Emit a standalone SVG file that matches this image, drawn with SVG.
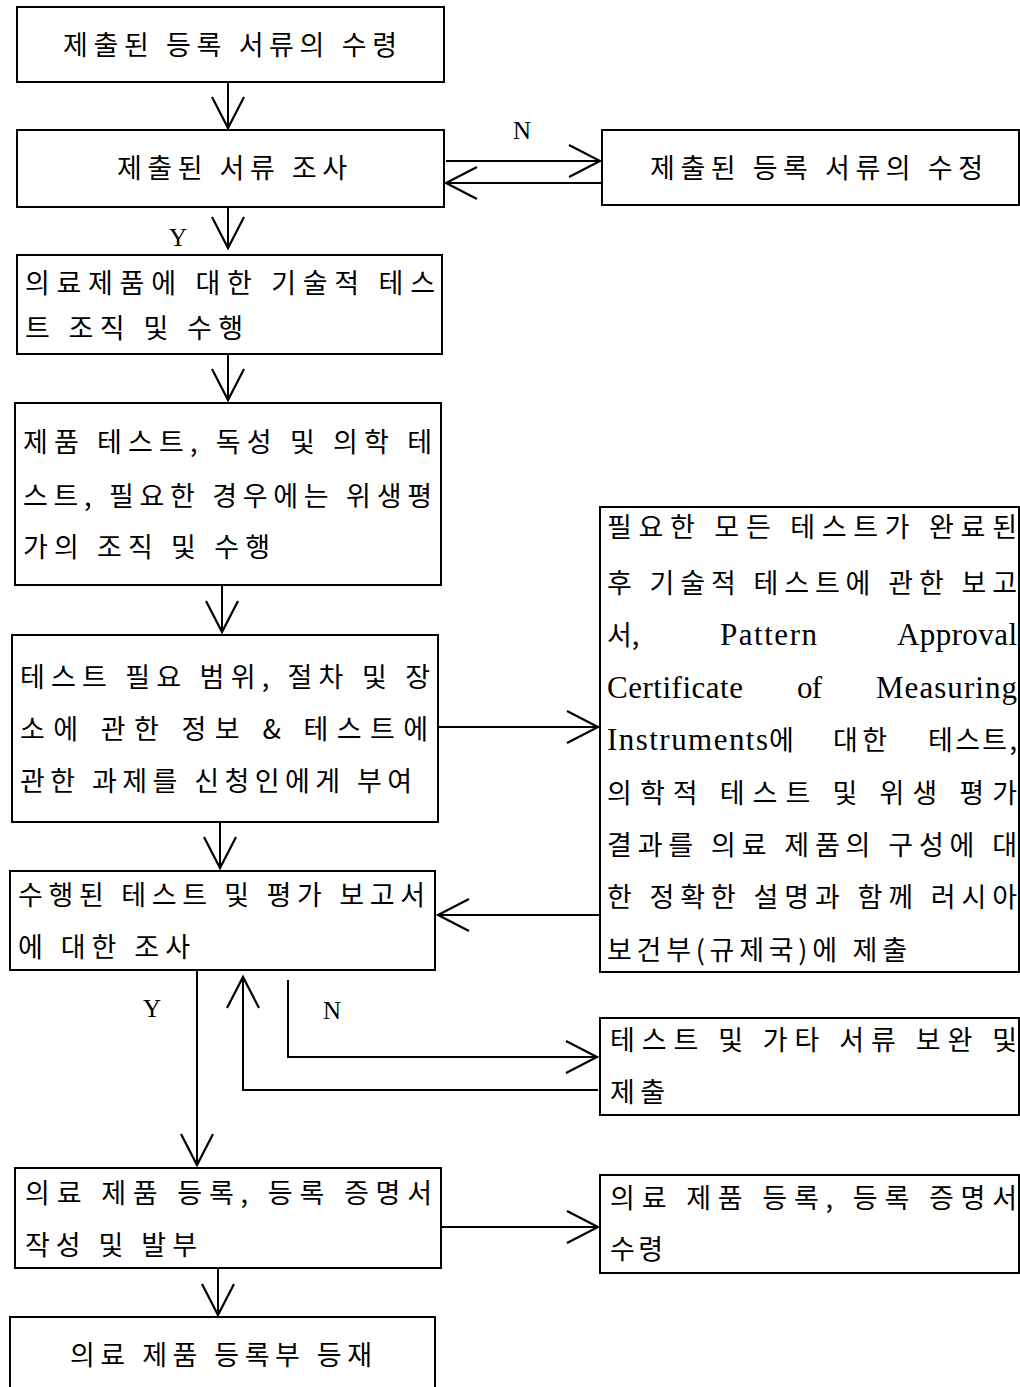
<svg xmlns="http://www.w3.org/2000/svg" width="1020" height="1387" viewBox="0 0 1020 1387">
<style>
.box{fill:#fff;stroke:#000;stroke-width:2}
.t{font-family:"Noto Sans CJK KR","Liberation Serif",serif;font-size:27px;fill:#000}
.l{font-family:"Liberation Serif","Noto Sans CJK KR",serif;font-size:31px;fill:#000}
.lbl{font-family:"Liberation Serif",serif;font-size:25px;fill:#000}
.c{fill:none;stroke:#000;stroke-width:2}
</style>
<defs>
<marker id="ah" markerUnits="userSpaceOnUse" markerWidth="40" markerHeight="40" viewBox="-34 -20 40 40" refX="0" refY="0" orient="auto">
<path d="M-31,-16 L0,0 L-31,16" fill="none" stroke="#000" stroke-width="2.2"/>
</marker>
</defs>
<g id="connectors">
<line class="c" x1="228" y1="82" x2="228" y2="128" marker-end="url(#ah)"/>
<line class="c" x1="446" y1="161" x2="600" y2="161" marker-end="url(#ah)"/>
<line class="c" x1="601" y1="183" x2="446" y2="183" marker-end="url(#ah)"/>
<line class="c" x1="228" y1="207" x2="228" y2="248" marker-end="url(#ah)"/>
<line class="c" x1="228" y1="354" x2="228" y2="400" marker-end="url(#ah)"/>
<line class="c" x1="222" y1="585" x2="222" y2="632" marker-end="url(#ah)"/>
<line class="c" x1="438" y1="727" x2="598" y2="727" marker-end="url(#ah)"/>
<line class="c" x1="600" y1="915" x2="438" y2="915" marker-end="url(#ah)"/>
<line class="c" x1="220" y1="822" x2="220" y2="868" marker-end="url(#ah)"/>
<line class="c" x1="197" y1="970" x2="197" y2="1165" marker-end="url(#ah)"/>
<polyline class="c" points="598,1090 243,1090 243,977" marker-end="url(#ah)"/>
<polyline class="c" points="288,980 288,1057 597,1057" marker-end="url(#ah)"/>
<line class="c" x1="441" y1="1227" x2="598" y2="1227" marker-end="url(#ah)"/>
<line class="c" x1="218" y1="1268" x2="218" y2="1315" marker-end="url(#ah)"/>
<text class="lbl" x="522" y="139" text-anchor="middle">N</text>
<text class="lbl" x="178" y="246" text-anchor="middle">Y</text>
<text class="lbl" x="152" y="1017" text-anchor="middle">Y</text>
<text class="lbl" x="332" y="1019" text-anchor="middle">N</text>
</g>
<g id="n1">
<rect class="box" x="17" y="7" width="427" height="75"/>
<text class="t" x="63" y="55" textLength="334" lengthAdjust="spacing">제출된 등록 서류의 수령</text>
</g>
<g id="n2">
<rect class="box" x="17" y="130" width="427" height="77"/>
<text class="t" x="117" y="178" textLength="230" lengthAdjust="spacing">제출된 서류 조사</text>
</g>
<g id="n2r">
<rect class="box" x="602" y="130" width="417" height="75"/>
<text class="t" x="650" y="178" textLength="333" lengthAdjust="spacing">제출된 등록 서류의 수정</text>
</g>
<g id="n3">
<rect class="box" x="17" y="255" width="425" height="99"/>
<text class="t" x="25" y="293" textLength="410" lengthAdjust="spacing">의료제품에 대한 기술적 테스</text>
<text class="t" x="25" y="338" textLength="218" lengthAdjust="spacing">트 조직 및 수행</text>
</g>
<g id="n4">
<rect class="box" x="15" y="403" width="426" height="182"/>
<text class="t" x="23" y="452" textLength="409" lengthAdjust="spacing">제품 테스트, 독성 및 의학 테</text>
<text class="t" x="23" y="506" textLength="409" lengthAdjust="spacing">스트, 필요한 경우에는 위생평</text>
<text class="t" x="23" y="557" textLength="247" lengthAdjust="spacing">가의 조직 및 수행</text>
</g>
<g id="n5">
<rect class="box" x="12" y="635" width="426" height="187"/>
<text class="t" x="20" y="687" textLength="410" lengthAdjust="spacing">테스트 필요 범위, 절차 및 장</text>
<text class="t" x="20" y="739" textLength="408" lengthAdjust="spacing">소에 관한 정보 &amp; 테스트에</text>
<text class="t" x="20" y="791" textLength="392" lengthAdjust="spacing">관한 과제를 신청인에게 부여</text>
</g>
<g id="n5r">
<rect class="box" x="600" y="507" width="419" height="465"/>
<text class="t" x="607" y="537" textLength="410" lengthAdjust="spacing">필요한 모든 테스트가 완료된</text>
<text class="t" x="607" y="593" textLength="410" lengthAdjust="spacing">후 기술적 테스트에 관한 보고</text>
<text class="t" x="607" y="645">서,</text>
<text class="l" x="720" y="645" textLength="97" lengthAdjust="spacing">Pattern</text>
<text class="l" x="897" y="645" textLength="120" lengthAdjust="spacing">Approval</text>
<text class="l" x="607" y="698" textLength="136" lengthAdjust="spacing">Certificate</text>
<text class="l" x="797" y="698" textLength="25" lengthAdjust="spacing">of</text>
<text class="l" x="876" y="698" textLength="141" lengthAdjust="spacing">Measuring</text>
<text class="l" x="607" y="750" textLength="161" lengthAdjust="spacing">Instruments</text>
<text class="t" x="769" y="750">에</text>
<text class="t" x="833" y="750" textLength="54" lengthAdjust="spacing">대한</text>
<text class="t" x="928" y="750" textLength="89" lengthAdjust="spacing">테스트,</text>
<text class="t" x="607" y="803" textLength="410" lengthAdjust="spacing">의학적 테스트 및 위생 평가</text>
<text class="t" x="607" y="855" textLength="410" lengthAdjust="spacing">결과를 의료 제품의 구성에 대</text>
<text class="t" x="607" y="907" textLength="410" lengthAdjust="spacing">한 정확한 설명과 함께 러시아</text>
<text class="t" x="607" y="960" textLength="300" lengthAdjust="spacing">보건부(규제국)에 제출</text>
</g>
<g id="n6">
<rect class="box" x="10" y="871" width="425" height="99"/>
<text class="t" x="18" y="905" textLength="407" lengthAdjust="spacing">수행된 테스트 및 평가 보고서</text>
<text class="t" x="18" y="957" textLength="172" lengthAdjust="spacing">에 대한 조사</text>
</g>
<g id="n6r">
<rect class="box" x="600" y="1018" width="419" height="97"/>
<text class="t" x="610" y="1050" textLength="407" lengthAdjust="spacing">테스트 및 가타 서류 보완 및</text>
<text class="t" x="610" y="1102" textLength="55" lengthAdjust="spacing">제출</text>
</g>
<g id="n7">
<rect class="box" x="15" y="1168" width="426" height="100"/>
<text class="t" x="25" y="1203" textLength="407" lengthAdjust="spacing">의료 제품 등록, 등록 증명서</text>
<text class="t" x="25" y="1255" textLength="172" lengthAdjust="spacing">작성 및 발부</text>
</g>
<g id="n7r">
<rect class="box" x="600" y="1175" width="419" height="98"/>
<text class="t" x="610" y="1208" textLength="407" lengthAdjust="spacing">의료 제품 등록, 등록 증명서</text>
<text class="t" x="610" y="1259" textLength="53" lengthAdjust="spacing">수령</text>
</g>
<g id="n8">
<rect class="box" x="10" y="1317" width="425" height="80"/>
<text class="t" x="70" y="1365" textLength="302" lengthAdjust="spacing">의료 제품 등록부 등재</text>
</g>
</svg>
